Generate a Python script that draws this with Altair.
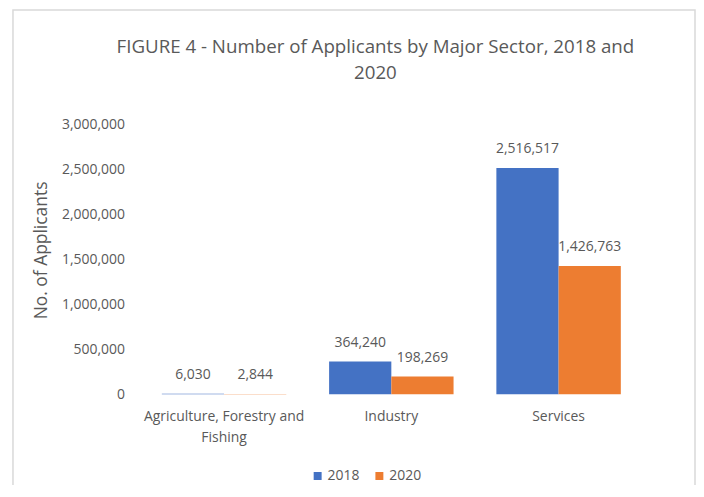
import altair as alt
import pandas as pd

sectors = ["Agriculture, Forestry and Fishing", "Industry", "Services"]
years = ["2018", "2020"]
values_2018 = [6030, 364240, 2516517]
values_2020 = [2844, 198269, 1426763]
y_ticks = [0, 500000, 1000000, 1500000, 2000000, 2500000, 3000000]
title_lines = ["FIGURE 4 - Number of Applicants by Major Sector, 2018 and", "2020"]
colors = ["#4472C4", "#ED7D31"]

rows = []
for s, a, b in zip(sectors, values_2018, values_2020):
    rows.append({"Sector": s, "Year": "2018", "Applicants": a})
    rows.append({"Sector": s, "Year": "2020", "Applicants": b})
df = pd.DataFrame(rows)

FONT = "Open Sans"
TXT = "#595959"
FS = 14

x_enc = alt.X(
    "Sector:N",
    sort=sectors,
    scale=alt.Scale(paddingInner=0.256, paddingOuter=0.128),
    axis=alt.Axis(
        title=None,
        labelAngle=0,
        domain=False,
        ticks=False,
        labelPadding=15,
        labelFontSize=FS,
        labelColor=TXT,
        labelFont=FONT,
        labelLineHeight=21,
        labelExpr="datum.value == 'Agriculture, Forestry and Fishing' ? ['Agriculture, Forestry and', 'Fishing'] : datum.label",
    ),
)
y_enc = alt.Y(
    "Applicants:Q",
    scale=alt.Scale(domain=[0, 3000000], nice=False),
    axis=alt.Axis(
        title="No. of Applicants",
        values=y_ticks,
        format=",d",
        grid=False,
        domain=False,
        ticks=False,
        labelPadding=16,
        labelFontSize=FS,
        labelColor=TXT,
        labelFont=FONT,
        titleFont=FONT,
        titleFontSize=17.5,
        titleFontWeight="normal",
        titleColor=TXT,
        titleX=-99,
        titleY=126,
        titleAlign="center",
        titleBaseline="middle",
        titleAngle=270,
    ),
)
xoff = alt.XOffset("Year:N", sort=years, scale=alt.Scale(paddingInner=0, paddingOuter=0))
color = alt.Color(
    "Year:N",
    sort=years,
    scale=alt.Scale(domain=years, range=colors),
    legend=alt.Legend(
        title=None,
        orient="none",
        direction="horizontal",
        legendX=171,
        legendY=346,
        symbolType="square",
        symbolSize=64,
        symbolStrokeWidth=0,
        labelFontSize=FS,
        labelColor=TXT,
        labelFont=FONT,
        columnPadding=12,
        labelOffset=3,
    ),
)

base = alt.Chart(df)
bars = base.mark_bar().encode(x=x_enc, xOffset=xoff, y=y_enc, color=color)
labels = base.mark_text(dy=-19, fontSize=FS, color=TXT, font=FONT).encode(
    x=x_enc,
    xOffset=xoff,
    y=y_enc,
    text=alt.Text("Applicants:Q", format=",d"),
)
frame = alt.Chart(alt.Data(values=[{"a": 1}])).mark_rect(
    fill=None, stroke="#D9D9D9", strokeWidth=1.5
).encode(
    x=alt.value(-128), x2=alt.value(557), y=alt.value(-115), y2=alt.value(400)
)

chart = alt.layer(frame, bars, labels).properties(
    width=504,
    height=271,
    title=alt.TitleParams(
        text=title_lines,
        font=FONT,
        fontSize=18.8,
        fontWeight="normal",
        color=TXT,
        anchor="middle",
        frame="group",
        dx=-16,
        offset=-74,
        lineHeight=26,
    ),
    autosize=alt.AutoSizeParams(type="none"),
    padding={"left": 133, "top": 116, "right": 54, "bottom": 90},
).configure(background="white").configure_view(strokeWidth=0, stroke="transparent")

chart.save("out.html", embed_options={"renderer": "svg", "actions": False})
